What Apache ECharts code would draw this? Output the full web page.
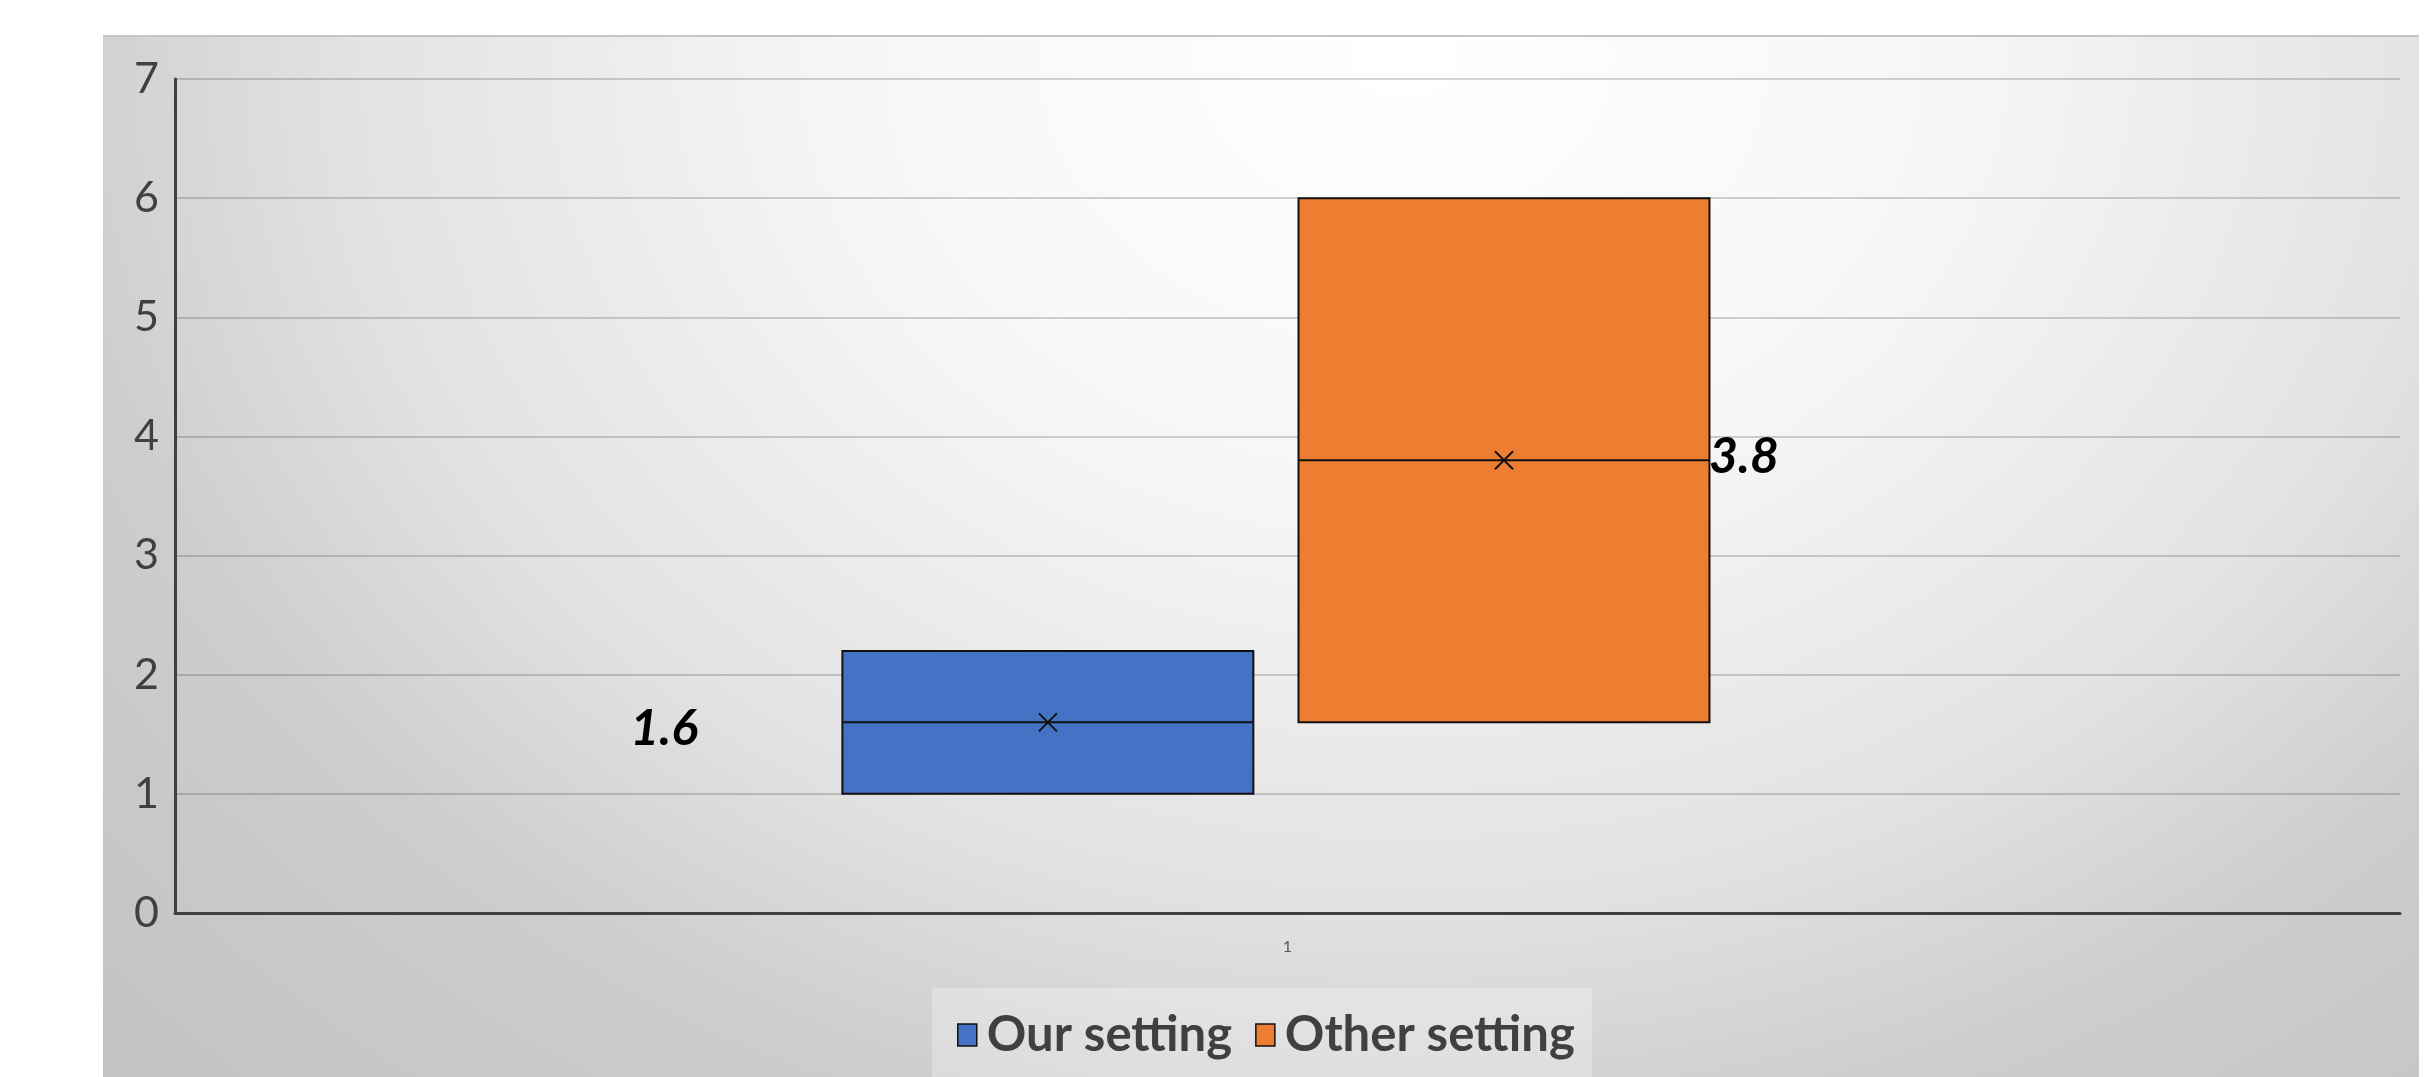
<!DOCTYPE html>
<html>
<head>
<meta charset="utf-8">
<script src="https://cdn.jsdelivr.net/npm/echarts@6/dist/echarts.min.js"></script>
<style>
  html, body { margin: 0; padding: 0; background: #ffffff; }
  #chart { position: absolute; left: 103px; top: 35px; width: 2316px; height: 1042px; }
</style>
</head>
<body>
<div id="chart"></div>
<script>
// Category and series values
const categories = ['1'];
const seriesNames = ['Our setting', 'Other setting'];
const boxLow = [1.0, 1.6];   // lower edge of each box
const boxMean = [1.6, 3.8];  // mean / median line
const boxHigh = [2.2, 6.0];  // upper edge of each box
const yTicks = [0, 1, 2, 3, 4, 5, 6, 7];

const colors = ['#4472C4', '#ED7D31'];

// Layout of the boxes inside the category band (fractions of band width)
const boxOffset = [-0.1077, 0.0973];
const boxWidthFrac = 0.1847;
// Placement of the value labels relative to the box centre
const labelLayout = [
  { align: 'right', dx: -350, dy: 7 },
  { align: 'left', dx: 205, dy: -3 }
];

const W = 2316, H = 1042;
const chart = echarts.init(document.getElementById('chart'), null, { renderer: 'canvas' });

function makeRenderItem(si) {
  return function (params, api) {
    const cat = api.value(0);
    const low = api.value(1), mean = api.value(2), high = api.value(3);
    const pLow = api.coord([cat, low]);
    const pMean = api.coord([cat, mean]);
    const pHigh = api.coord([cat, high]);
    const band = api.size([1, 0])[0];
    const w = band * boxWidthFrac;
    const cx = pLow[0] + band * boxOffset[si];
    const x0 = cx - w / 2, x1 = cx + w / 2;
    const m = 9;
    const lab = labelLayout[si];
    return {
      type: 'group',
      children: [
        {
          type: 'rect',
          shape: { x: x0, y: pHigh[1], width: w, height: pLow[1] - pHigh[1] },
          style: { fill: api.visual('color'), stroke: '#111111', lineWidth: 2 }
        },
        {
          type: 'line',
          shape: { x1: x0, y1: pMean[1], x2: x1, y2: pMean[1] },
          style: { stroke: '#111111', lineWidth: 2 }
        },
        {
          type: 'line',
          shape: { x1: cx - m, y1: pMean[1] - m, x2: cx + m, y2: pMean[1] + m },
          style: { stroke: '#111111', lineWidth: 2 }
        },
        {
          type: 'line',
          shape: { x1: cx - m, y1: pMean[1] + m, x2: cx + m, y2: pMean[1] - m },
          style: { stroke: '#111111', lineWidth: 2 }
        },
        {
          type: 'text',
          style: {
            x: cx + lab.dx,
            y: pMean[1] + lab.dy,
            text: String(mean),
            align: lab.align,
            verticalAlign: 'middle',
            fill: '#000000',
            font: 'italic bold 50px Lato, "Open Sans", sans-serif'
          }
        }
      ]
    };
  };
}

const series = seriesNames.map(function (name, si) {
  return {
    name: name,
    type: 'custom',
    renderItem: makeRenderItem(si),
    itemStyle: { color: colors[si] },
    encode: { x: 0, y: [1, 2, 3] },
    data: categories.map(function (c, ci) {
      return [ci, boxLow[si], boxMean[si], boxHigh[si]];
    }),
    z: 5
  };
});

// Soft grey backdrop, lighter towards the top centre
const sx = 1.25;
const backdrop = {
  type: 'rect',
  x: 0,
  y: 0,
  scaleX: sx,
  silent: true,
  z: -100,
  shape: { x: 0, y: 0, width: W / sx, height: H },
  style: {
    fill: {
      type: 'radial',
      x: 1300 / W,
      y: 20 / H,
      r: 1540 / Math.min(W / sx, H),
      colorStops: [
        { offset: 0, color: '#ffffff' },
        { offset: 0.29, color: '#f6f6f6' },
        { offset: 0.55, color: '#e2e2e2' },
        { offset: 0.71, color: '#cdcdcd' },
        { offset: 1, color: '#c0c0c0' }
      ]
    }
  }
};

chart.setOption({
  animation: false,
  color: colors,
  backgroundColor: 'transparent',
  graphic: [
    backdrop,
    {
      type: 'line',
      silent: true,
      z: -99,
      shape: { x1: 0, y1: 1, x2: W, y2: 1 },
      style: { stroke: '#c4c4c4', lineWidth: 2 }
    }
  ],
  grid: { left: 72, right: 19, top: 44, bottom: 164, containLabel: false },
  xAxis: {
    type: 'category',
    data: categories,
    axisLine: { show: true, lineStyle: { color: '#404040', width: 3 } },
    axisTick: { show: false },
    axisLabel: { color: '#595959', fontSize: 16, margin: 26, fontFamily: 'Lato, sans-serif' },
    splitLine: { show: false }
  },
  yAxis: {
    type: 'value',
    min: yTicks[0],
    max: yTicks[yTicks.length - 1],
    interval: 1,
    axisLine: { show: true, lineStyle: { color: '#404040', width: 3 } },
    axisTick: { show: false },
    axisLabel: { color: '#404040', fontSize: 43, margin: 16, fontFamily: 'Lato, sans-serif' },
    splitLine: { show: true, lineStyle: { color: 'rgba(0,0,0,0.17)', width: 2 } }
  },
  legend: {
    data: seriesNames,
    left: 829,
    top: 953,
    orient: 'horizontal',
    icon: 'rect',
    itemWidth: 19,
    itemHeight: 22,
    itemGap: 23,
    padding: [22, 17, 40, 25],
    backgroundColor: 'rgba(255,255,255,0.28)',
    itemStyle: { borderColor: '#111111', borderWidth: 1.5 },
    textStyle: {
      color: '#404040',
      fontSize: 49,
      fontWeight: 'bold',
      fontFamily: 'Lato, sans-serif',
      lineHeight: 50,
      padding: [0, 0, 0, 5]
    },
    selectedMode: false
  },
  series: series
});
</script>
</body>
</html>
